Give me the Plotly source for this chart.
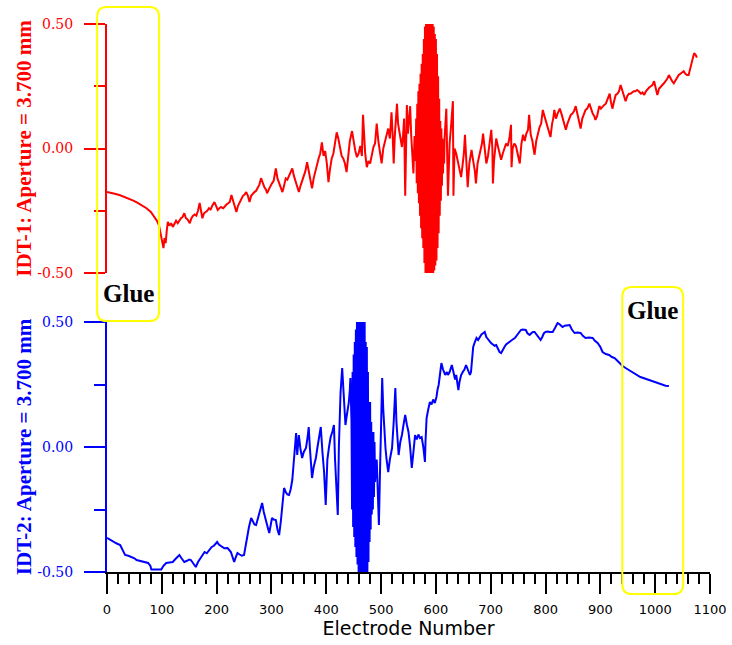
import plotly.graph_objects as go

# ---------------- data ----------------
red_x = [0, 8, 16, 24, 32, 40, 48, 56, 64, 72, 80, 86, 91, 95, 98, 101, 103, 105, 107, 109,
         111, 114, 117, 120, 123, 126, 129, 132, 135, 138, 141, 144, 147, 151, 154, 157, 160, 163, 166, 169,
         172, 174, 177, 180, 183, 186, 189, 192, 196, 199, 202, 205, 208, 212, 215, 218, 221, 224, 227, 230,
         233, 236, 239, 242, 245, 248, 251, 254, 257, 260, 263, 266, 269, 272, 275, 278, 281, 284, 287, 290,
         292, 295, 298, 301, 304, 308, 311, 314, 317, 320, 323, 326, 329, 332, 335, 338, 341, 344, 347, 350,
         353, 356, 359, 362, 365, 368, 371, 374, 377, 380, 383, 386, 389, 392, 395, 398, 401, 404, 407, 410,
         413, 416, 419, 422, 425, 428, 431, 434, 437, 440, 443, 447, 450, 453, 456, 459, 462, 465, 467, 469,
         471, 474, 477, 480, 483, 486, 489, 492, 495, 498, 501, 504, 507, 510, 513, 516, 519, 521, 523, 525,
         527, 529, 531, 534, 536, 538, 540, 542, 544, 546, 547, 549, 551, 553, 555, 557, 559, 561, 563,
         564, 565, 566, 567, 568, 569, 570, 571, 572, 573, 574, 575, 576, 577, 578, 579, 580, 581, 582, 583,
         584, 585, 586, 587, 588, 589, 590, 591, 592, 593, 594, 595, 596, 597, 598, 599, 600, 601, 602, 603,
         604, 605, 606, 607, 608, 609, 610, 611, 612, 613, 614, 615,
         616, 619, 622, 625, 628, 631, 632, 634, 637, 640, 643, 646, 649, 651, 653, 655, 658, 661, 663, 665,
         668, 671, 673, 676, 679, 682, 684, 686, 689, 692, 695, 698, 701, 703, 704, 706, 708, 710, 713, 716,
         719, 722, 725, 728, 731, 734, 737, 738, 740, 743, 746, 749, 753, 756, 759, 762, 765, 768, 770, 773,
         776, 778, 780, 783, 786, 789, 792, 795, 798, 800, 803, 806, 809, 812, 814, 816, 819, 822, 826, 829,
         831, 834, 837, 840, 843, 846, 849, 852, 855, 858, 861, 864, 867, 870, 873, 876, 880, 883, 886, 889,
         891, 894, 898, 901, 904, 907, 910, 913, 917, 919, 922, 925, 928, 931, 934, 937, 940, 943, 946, 949,
         952, 955, 958, 961, 964, 967, 970, 974, 977, 980, 983, 986, 989, 992, 995, 998, 1001, 1004, 1007, 1010,
         1013, 1016, 1019, 1022, 1025, 1028, 1031, 1034, 1037, 1040, 1043, 1046, 1049, 1052, 1055, 1058, 1061, 1064, 1067, 1069,
         1071, 1074, 1076]
red_y = [-0.175, -0.178, -0.183, -0.188, -0.194, -0.201, -0.209, -0.218, -0.228, -0.240, -0.255, -0.272, -0.29, -0.31, -0.34, -0.38, -0.40, -0.36, -0.38, -0.33,
         -0.295, -0.31, -0.30, -0.315, -0.30, -0.29, -0.30, -0.287, -0.28, -0.275, -0.26, -0.28, -0.285, -0.30, -0.28, -0.27, -0.265, -0.27, -0.25, -0.219,
         -0.25, -0.28, -0.26, -0.255, -0.25, -0.24, -0.245, -0.23, -0.215, -0.23, -0.247, -0.24, -0.235, -0.24, -0.23, -0.225, -0.22, -0.215, -0.187, -0.21,
         -0.235, -0.255, -0.23, -0.215, -0.20, -0.19, -0.185, -0.175, -0.19, -0.215, -0.19, -0.18, -0.175, -0.17, -0.16, -0.145, -0.119, -0.14, -0.155, -0.165,
         -0.18, -0.165, -0.15, -0.14, -0.13, -0.08, -0.12, -0.14, -0.16, -0.175, -0.15, -0.12, -0.125, -0.11, -0.10, -0.08, -0.11, -0.13, -0.15, -0.175,
         -0.15, -0.13, -0.11, -0.09, -0.055, -0.09, -0.12, -0.16, -0.12, -0.09, -0.07, -0.04, -0.02, 0.025, -0.03, -0.01, -0.06, -0.135, -0.08, -0.04,
         -0.02, 0.03, 0.065, 0.04, 0.0, -0.03, -0.04, -0.06, -0.095, -0.02, 0.03, 0.07, 0.02, -0.01, -0.035, -0.02, 0.01, -0.03, 0.135, 0.02,
         -0.02, -0.075, -0.05, -0.06, -0.03, 0.006, 0.02, 0.10, 0.03, -0.02, -0.06, 0.0, 0.03, 0.055, 0.08, 0.04, 0.145, 0.06, -0.06, 0.05,
         0.12, 0.18, 0.10, 0.06, 0.03, 0.006, 0.05, 0.12, -0.19, 0.10, 0.175, 0.06, 0.12, 0.17, 0.05, -0.02, -0.10, 0.05, -0.05,
         0.12, -0.14, 0.18, -0.18, 0.23, -0.22, 0.26, -0.27, 0.30, -0.32, 0.34, -0.36, 0.38, -0.40, 0.44, -0.46, 0.49, -0.50, 0.50, -0.50,
         0.50, -0.50, 0.50, -0.50, 0.50, -0.50, 0.50, -0.50, 0.50, -0.50, 0.50, -0.50, 0.49, -0.49, 0.46, -0.47, 0.44, -0.45, 0.38, -0.40,
         0.29, -0.34, 0.20, -0.27, 0.11, -0.21, 0.08, -0.15, 0.04, -0.10, 0.03, -0.06,
         0.05, 0.16, -0.19, 0.02, 0.10, 0.19, -0.19, 0.0, -0.02, -0.05, -0.08, -0.115, -0.06, -0.02, 0.055, -0.04, -0.155, -0.06, -0.03, -0.006,
         -0.05, -0.09, -0.14, -0.06, -0.03, 0.0, 0.02, 0.06, 0.0, -0.06, -0.03, 0.02, 0.075, 0.0, -0.14, -0.05, 0.0, 0.04, 0.01, -0.02,
         -0.045, -0.02, 0.0, 0.02, 0.01, 0.04, 0.095, -0.075, 0.0, 0.02, 0.01, -0.02, -0.06, 0.02, 0.055, 0.03, 0.06, 0.075, 0.135, 0.055,
         0.03, 0.0, -0.025, 0.03, 0.06, 0.085, 0.10, 0.155, 0.13, 0.115, 0.09, 0.07, 0.046, 0.10, 0.12, 0.155, 0.12, 0.14, 0.16, 0.14,
         0.125, 0.10, 0.075, 0.10, 0.12, 0.135, 0.14, 0.15, 0.17, 0.14, 0.11, 0.08, 0.12, 0.14, 0.155, 0.16, 0.18, 0.16, 0.14, 0.13,
         0.115, 0.13, 0.17, 0.16, 0.17, 0.175, 0.18, 0.20, 0.22, 0.19, 0.16, 0.19, 0.215, 0.22, 0.23, 0.255, 0.23, 0.21, 0.19, 0.21,
         0.22, 0.22, 0.225, 0.23, 0.23, 0.235, 0.23, 0.22, 0.225, 0.215, 0.23, 0.24, 0.245, 0.25, 0.255, 0.27, 0.24, 0.215, 0.24, 0.25,
         0.255, 0.262, 0.27, 0.28, 0.295, 0.28, 0.27, 0.262, 0.275, 0.285, 0.295, 0.30, 0.305, 0.31, 0.30, 0.295, 0.295, 0.32, 0.355, 0.37,
         0.383, 0.375, 0.365]

blue_x = [0, 5, 11, 17, 24, 28, 33, 39, 45, 50, 54, 60, 65, 70, 75, 79, 81, 90, 99, 103,
          108, 114, 120, 124, 128, 132, 136, 141, 146, 150, 153, 157, 162, 166, 170, 174, 178, 182, 187, 191,
          195, 198, 201, 204, 207, 210, 214, 220, 223, 226, 229, 232, 235, 238, 242, 246, 250, 253, 256, 259,
          263, 266, 269, 272, 276, 279, 283, 286, 290, 293, 296, 299, 301, 304, 308, 311, 314, 317, 320, 323,
          326, 329, 332, 335, 338, 341, 343, 345, 347, 350, 353, 356, 359, 363, 366, 368, 370, 372, 374, 377,
          381, 384, 387, 390, 393, 396, 399, 402, 405, 408, 411, 414, 416, 418, 421, 423, 426, 429, 431, 433,
          435, 437, 439, 441, 443, 444, 446,
          447, 448, 449, 450, 451, 452, 453, 454, 455, 456, 457, 458, 459, 460, 461, 462, 463, 464, 465, 466,
          467, 468, 469, 470, 471, 472, 473, 474, 475, 476, 477, 478, 479, 480, 481, 482, 483, 484, 485, 486,
          487, 488, 489,
          490, 492, 494, 496, 498, 500, 502, 504, 506, 508, 510, 513, 516, 520, 523, 526, 528, 530, 532, 535,
          538, 541, 544, 547, 550, 553, 556, 559, 562, 565, 568, 571, 574, 577, 580, 581, 583, 586, 589, 592,
          595, 598, 601, 603, 605, 608, 610, 613, 615, 617, 620, 622, 625, 627, 629, 632, 635, 637, 639, 641,
          643, 646, 649, 652, 655, 658, 660, 662, 664, 666, 668, 671, 674, 677, 680, 683, 686, 689, 692, 695,
          698, 701, 704, 707, 710, 713, 716, 719, 722, 725, 728, 731, 734, 737, 740, 744, 747, 750, 753, 755,
          758, 761, 764, 767, 771, 774, 777, 780, 784, 788, 791, 794, 797, 800, 804, 808, 813, 817, 820, 822,
          826, 831, 835, 840, 844, 848, 853, 858, 864, 868, 873, 879, 886, 890, 895, 900, 904, 910, 916, 921,
          926, 931, 935, 940, 946, 952, 958, 965, 973, 981, 989, 995, 1000, 1007, 1013, 1019, 1025]
blue_y = [-0.363, -0.37, -0.379, -0.385, -0.392, -0.41, -0.432, -0.435, -0.44, -0.445, -0.452, -0.455, -0.46, -0.462, -0.464, -0.475, -0.49, -0.49, -0.49, -0.475,
          -0.464, -0.462, -0.46, -0.45, -0.44, -0.432, -0.445, -0.46, -0.455, -0.45, -0.452, -0.465, -0.48, -0.46, -0.445, -0.432, -0.42, -0.425, -0.412, -0.40,
          -0.395, -0.385, -0.38, -0.39, -0.395, -0.40, -0.405, -0.404, -0.41, -0.42, -0.44, -0.46, -0.44, -0.424, -0.43, -0.435, -0.432, -0.39, -0.344, -0.32,
          -0.284, -0.30, -0.31, -0.312, -0.28, -0.25, -0.224, -0.26, -0.30, -0.32, -0.344, -0.30, -0.284, -0.29, -0.292, -0.33, -0.352, -0.30, -0.24, -0.164,
          -0.18, -0.19, -0.192, -0.17, -0.132, -0.06, 0.0, 0.056, -0.032, 0.048, -0.01, -0.044, -0.02, -0.004, 0.04, 0.08, 0.0, -0.08, -0.124, -0.08,
          -0.044, 0.0, 0.05, 0.08, -0.02, -0.10, -0.232, -0.05, 0.0, 0.04, 0.06, 0.088, -0.05, -0.15, -0.272, 0.0, 0.216, 0.316, 0.22, 0.13,
          0.088, 0.12, 0.15, 0.176, 0.23, 0.276, 0.10,
          -0.25, 0.30, -0.32, 0.37, -0.36, 0.42, -0.40, 0.47, -0.44, 0.50, -0.47, 0.50, -0.50, 0.50, -0.50, 0.50, -0.50, 0.50, -0.50, 0.50,
          -0.50, 0.50, -0.50, 0.50, -0.50, 0.42, -0.50, 0.40, -0.50, 0.30, -0.46, 0.18, -0.38, 0.18, -0.33, 0.10, -0.27, 0.06, -0.25, 0.06,
          -0.20, 0.02, -0.14,
          -0.10, -0.05, -0.15, -0.312, -0.10, 0.10, 0.276, 0.15, 0.05, -0.004, -0.05, -0.10, -0.05, -0.004, 0.10, 0.236, 0.10, 0.0, -0.032, 0.02,
          0.048, 0.09, 0.128, 0.09, 0.06, 0.0, -0.084, -0.02, 0.048, 0.03, 0.05, 0.036, 0.04, 0.0, -0.06, 0.02, 0.116, 0.15, 0.18, 0.17,
          0.19, 0.176, 0.20, 0.23, 0.248, 0.30, 0.336, 0.31, 0.30, 0.288, 0.30, 0.288, 0.30, 0.32, 0.328, 0.30, 0.27, 0.288, 0.26, 0.228,
          0.26, 0.288, 0.30, 0.31, 0.328, 0.31, 0.30, 0.288, 0.30, 0.35, 0.40, 0.42, 0.436, 0.428, 0.44, 0.45, 0.455, 0.46, 0.44, 0.43,
          0.42, 0.415, 0.41, 0.405, 0.408, 0.39, 0.38, 0.376, 0.39, 0.40, 0.41, 0.416, 0.42, 0.425, 0.43, 0.436, 0.445, 0.455, 0.465, 0.468,
          0.47, 0.468, 0.468, 0.455, 0.448, 0.455, 0.46, 0.46, 0.45, 0.44, 0.428, 0.44, 0.455, 0.46, 0.462, 0.46, 0.46, 0.475, 0.49, 0.496,
          0.49, 0.48, 0.485, 0.488, 0.488, 0.47, 0.456, 0.458, 0.456, 0.445, 0.436, 0.438, 0.436, 0.425, 0.416, 0.40, 0.38, 0.372, 0.368, 0.36,
          0.356, 0.345, 0.336, 0.325, 0.316, 0.308, 0.30, 0.29, 0.28, 0.274, 0.268, 0.264, 0.26, 0.254, 0.248, 0.245, 0.244]

y_ticks = [-0.5, 0.0, 0.5]
y_tick_text = ["-0.50", "0.00", "0.50"]
x_ticks = [0, 100, 200, 300, 400, 500, 600, 700, 800, 900, 1000, 1100]
x_range = [0, 1100]
glue_left = [-18, 95]      # electrode span of the left glue box
glue_right = [940, 1051]   # electrode span of the right glue box

RED = "#ff0000"
BLUE = "#0000ff"
YEL = "#ffff00"
SERIF = "Liberation Serif"
SERIF_T = "DejaVu Serif"

fig = go.Figure()
fig.add_trace(go.Scatter(x=red_x, y=red_y, mode="lines", line=dict(color=RED, width=2),
                         xaxis="x2", yaxis="y2", showlegend=False, hoverinfo="skip"))
fig.add_trace(go.Scatter(x=blue_x, y=blue_y, mode="lines", line=dict(color=BLUE, width=2),
                         xaxis="x", yaxis="y", showlegend=False, hoverinfo="skip"))

W, H = 732, 645
ML, MR, MT, MB = 107, 22, 24, 73
PH = H - MT - MB
top_lo = (572 - 273) / PH
bot_hi = (572 - 322) / PH


def yax(color, title):
    return dict(range=[-0.5, 0.5], tickmode="array", tickvals=y_ticks, ticktext=y_tick_text,
                ticks="outside", ticklen=21, tickwidth=2, tickcolor=color, showgrid=False, zeroline=False,
                showline=True, linewidth=2, linecolor=color, ticklabelstandoff=8, automargin=False,
                tickfont=dict(family=SERIF_T, size=14, color=color),
                title=dict(text=f"<b>{title}</b>", font=dict(family=SERIF, size=21, color=color), standoff=0),
                minor=dict(dtick=0.25, ticks="outside", ticklen=11, tickwidth=2, tickcolor=color, showgrid=False))


fig.update_layout(
    width=W, height=H, margin=dict(l=ML, r=MR, t=MT, b=MB, autoexpand=False),
    paper_bgcolor="white", plot_bgcolor="white",
    xaxis=dict(domain=[0, 1], range=x_range, anchor="y", tickmode="array", tickvals=x_ticks,
               ticks="outside", ticklen=20, tickwidth=2, tickcolor="black", automargin=False,
               minor=dict(dtick=20, ticks="outside", ticklen=10, tickwidth=2, tickcolor="black", showgrid=False),
               showline=True, linewidth=2, linecolor="black", showgrid=False, zeroline=False,
               tickfont=dict(family="DejaVu Sans", size=13, color="black"), ticklabelstandoff=4,
               title=dict(text="Electrode Number", font=dict(family="DejaVu Sans", size=19, color="black"), standoff=6)),
    xaxis2=dict(domain=[0, 1], range=x_range, anchor="y2", visible=False, automargin=False),
    yaxis=dict(domain=[0, bot_hi], anchor="x", **yax(BLUE, "IDT-2: Aperture = 3.700 mm")),
    yaxis2=dict(domain=[top_lo, 1], anchor="x2", **yax(RED, "IDT-1: Aperture = 3.700 mm")),
)


def rounded_box(x0, x1, y0, y1, rx, ry):
    return (f"M {x0+rx},{y1} L {x1-rx},{y1} Q {x1},{y1} {x1},{y1-ry} "
            f"L {x1},{y0+ry} Q {x1},{y0} {x1-rx},{y0} L {x0+rx},{y0} "
            f"Q {x0},{y0} {x0},{y0+ry} L {x0},{y1-ry} Q {x0},{y1} {x0+rx},{y1} Z")


def ppy(py):
    return (H - MB - py) / PH


def ppx(e):
    return (e - x_range[0]) / (x_range[1] - x_range[0])


for span, ytop, ybot in [(glue_left, 7, 321), (glue_right, 287, 594)]:
    fig.add_shape(type="path", xref="paper", yref="paper",
                  path=rounded_box(ppx(span[0]), ppx(span[1]), ppy(ybot), ppy(ytop), 0.016, 0.018),
                  line=dict(color=YEL, width=2), fillcolor="rgba(0,0,0,0)", layer="above")

fig.add_annotation(x=ppx((glue_left[0] + glue_left[1]) / 2), y=ppy(293), xref="paper", yref="paper",
                   xanchor="center", yanchor="middle",
                   text="<b>Glue</b>", showarrow=False, font=dict(family=SERIF, size=25, color="black"))
fig.add_annotation(x=ppx((glue_right[0] + glue_right[1]) / 2), y=ppy(311), xref="paper", yref="paper",
                   xanchor="center", yanchor="middle",
                   text="<b>Glue</b>", showarrow=False, font=dict(family=SERIF, size=25, color="black"))

fig.write_html("out.html")
